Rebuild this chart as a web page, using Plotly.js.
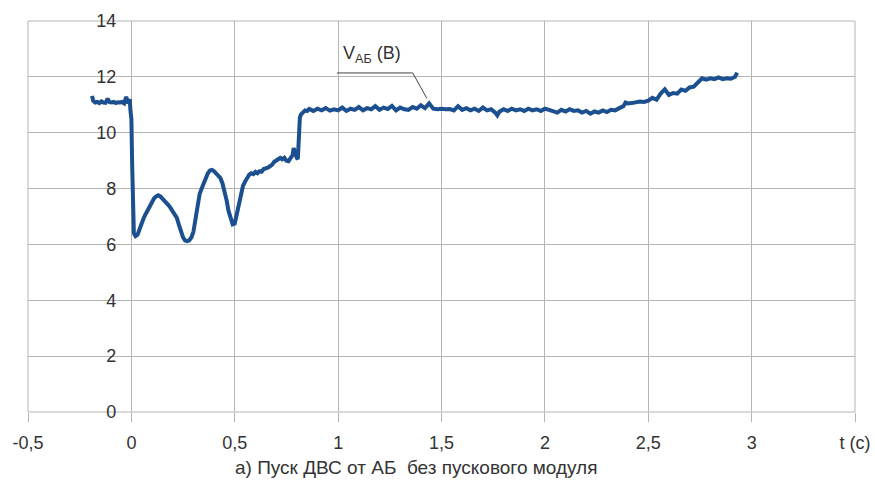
<!DOCTYPE html>
<html>
<head>
<meta charset="utf-8">
<script src="https://cdn.plot.ly/plotly-3.0.1.min.js"></script>
<style>html,body{margin:0;padding:0;background:#fff;}#chart{width:875px;height:493px;}</style>
</head>
<body>
<div id="chart"></div>
<script>
// time, s
const timeS = [
 -0.19,-0.185,-0.175,-0.165,-0.155,-0.145,-0.135,-0.125,-0.115,-0.105,-0.095,-0.085,-0.075,-0.065,-0.055,-0.045,-0.035,-0.025,-0.015,-0.008,-0.004,0.000,
 0.004,0.008,0.012,0.02,0.03,0.04,0.05,0.06,0.07,0.08,0.09,0.10,0.11,0.12,0.13,0.14,0.15,0.16,0.17,0.18,0.19,0.20,
 0.21,0.22,0.23,0.24,0.25,0.26,0.27,0.28,0.29,0.30,0.31,0.32,0.33,0.34,0.35,0.36,0.37,0.38,0.39,0.40,
 0.41,0.42,0.43,0.44,0.45,0.46,0.47,0.48,0.49,0.50,0.51,0.52,0.53,0.54,0.55,0.56,0.57,0.58,0.59,0.60,
 0.61,0.62,0.63,0.64,0.65,0.66,0.67,0.68,0.69,0.70,0.71,0.72,0.73,0.74,0.75,0.76,0.77,0.78,0.785,0.79,0.80,0.805,
 0.81,0.815,0.82,0.83,0.84,0.85,
 0.86,0.88,0.90,0.92,0.94,0.96,0.98,1.00,1.02,1.04,1.06,1.08,1.10,1.12,1.14,1.16,1.18,1.20,1.22,1.24,1.26,1.28,1.30,
 1.32,1.34,1.36,1.38,1.40,1.42,1.44,1.46,1.48,1.50,1.52,1.54,1.56,1.58,1.60,1.62,1.64,1.66,1.68,1.70,1.72,1.74,1.76,1.77,1.78,
 1.80,1.82,1.84,1.86,1.88,1.90,1.92,1.94,1.96,1.98,2.00,2.02,2.04,2.06,2.08,2.10,2.12,2.14,2.16,2.18,2.20,2.22,2.24,2.26,2.28,
 2.30,2.32,2.34,2.36,2.38,2.39,2.40,2.42,2.44,2.46,2.48,2.50,2.52,2.54,2.56,2.58,2.60,2.62,2.64,2.66,2.68,2.70,2.72,2.74,2.76,
 2.78,2.80,2.82,2.84,2.86,2.88,2.90,2.92,2.93
];
// battery voltage V_АБ, V
const voltageV = [
 11.32,11.15,11.08,11.10,11.06,11.12,11.08,11.07,11.22,11.09,11.08,11.10,11.06,11.09,11.08,11.10,11.05,11.28,11.05,11.20,10.75,10.50,
 8.80,6.90,6.40,6.30,6.35,6.55,6.80,6.95,7.10,7.25,7.40,7.55,7.65,7.72,7.76,7.72,7.65,7.58,7.50,7.40,7.30,7.20,
 7.08,6.95,6.70,6.45,6.25,6.14,6.12,6.15,6.25,6.45,6.85,7.35,7.80,8.00,8.20,8.40,8.55,8.65,8.67,8.62,
 8.55,8.45,8.38,8.20,7.95,7.60,7.20,6.90,6.72,6.75,7.10,7.50,7.85,8.10,8.25,8.40,8.50,8.55,8.52,8.60,
 8.55,8.62,8.60,8.70,8.72,8.75,8.80,8.85,8.95,9.02,9.05,9.10,9.05,9.10,9.00,8.98,9.10,9.20,9.45,9.30,9.10,9.05,
 9.90,10.55,10.65,10.72,10.80,10.78,
 10.85,10.78,10.86,10.80,10.88,10.79,10.84,10.80,10.90,10.78,10.86,10.82,10.92,10.80,10.88,10.84,10.95,10.82,10.90,10.85,10.96,10.80,10.90,
 10.84,10.82,10.92,10.86,10.98,10.88,11.05,10.86,10.84,10.86,10.84,10.85,10.80,10.95,10.82,10.88,10.80,10.86,10.78,10.90,10.80,10.84,10.72,10.62,10.75,
 10.84,10.78,10.86,10.80,10.84,10.78,10.86,10.80,10.84,10.78,10.86,10.82,10.76,10.72,10.82,10.76,10.84,10.78,10.80,10.72,10.78,10.68,10.76,10.72,10.80,
 10.74,10.82,10.80,10.88,10.95,11.08,11.05,11.06,11.10,11.12,11.10,11.15,11.25,11.18,11.40,11.55,11.35,11.42,11.40,11.55,11.50,11.62,11.65,11.78,11.95,
 11.90,11.95,11.92,11.98,11.92,11.95,11.93,12.00,12.15
];
const xTickVals = [-0.5,0,0.5,1,1.5,2,2.5,3,3.5];
const xTickText = ['-0,5','0','0,5','1','1,5','2','2,5','3','t (c)'];
const yTickVals = [0,2,4,6,8,10,12,14];
const seriesLabel = 'V<sub>АБ</sub> (В)';
const captionText = 'а) Пуск ДВС от АБ  без пускового модуля';
// leader line of the series label (data coords)
const leaderX = [0.994, 1.361, 1.429];
const leaderY = [12.14, 12.14, 11.23];

const gridCol = '#b4b4b4';
const font = {family: 'Liberation Sans, Arial, sans-serif', size: 18, color: '#333333'};
const capFont = {family: 'Liberation Sans, Arial, sans-serif', size: 19, color: '#333333'};

const trace = {
  x: timeS, y: voltageV, type: 'scatter', mode: 'lines',
  line: {color: '#1b4f8f', width: 4, shape: 'linear'},
  hoverinfo: 'skip', showlegend: false
};

const layout = {
  width: 875, height: 493,
  margin: {l: 28, r: 20, t: 21, b: 81, pad: 0},
  paper_bgcolor: '#ffffff', plot_bgcolor: '#ffffff',
  font: font,
  showlegend: false,
  xaxis: {
    range: [-0.5, 3.5], tickmode: 'array', tickvals: xTickVals, ticktext: xTickText,
    showgrid: true, gridcolor: gridCol, gridwidth: 1, zeroline: false,
    showline: false, ticks: 'outside', ticklen: 9, tickcolor: gridCol, tickwidth: 1,
    ticklabelstandoff: 5, tickfont: font, fixedrange: true
  },
  yaxis: {
    range: [0, 14], tickmode: 'array', tickvals: yTickVals,
    anchor: 'free', position: 0.125,
    showgrid: true, gridcolor: gridCol, gridwidth: 1, zeroline: false,
    showline: false, ticks: '', ticklabelstandoff: 15, tickfont: font, fixedrange: true
  },
  shapes: [
    {type: 'rect', xref: 'paper', yref: 'paper', x0: 0, x1: 1, y0: 0, y1: 1,
     line: {color: gridCol, width: 1}, layer: 'below'},
    {type: 'path', xref: 'x', yref: 'y',
     path: 'M ' + leaderX[0] + ',' + leaderY[0] + ' L ' + leaderX[1] + ',' + leaderY[1] + ' L ' + leaderX[2] + ',' + leaderY[2],
     line: {color: '#444444', width: 1}}
  ],
  annotations: [
    {x: 1.165, y: 12.3, xref: 'x', yref: 'y', text: seriesLabel, showarrow: false,
     xanchor: 'center', yanchor: 'bottom', font: font},
    {x: 0.469, y: -0.141, xref: 'paper', yref: 'paper', text: captionText, showarrow: false,
     xanchor: 'center', yanchor: 'middle', font: capFont}
  ]
};

Plotly.newPlot('chart', [trace], layout, {displayModeBar: false, staticPlot: true});
</script>
</body>
</html>
